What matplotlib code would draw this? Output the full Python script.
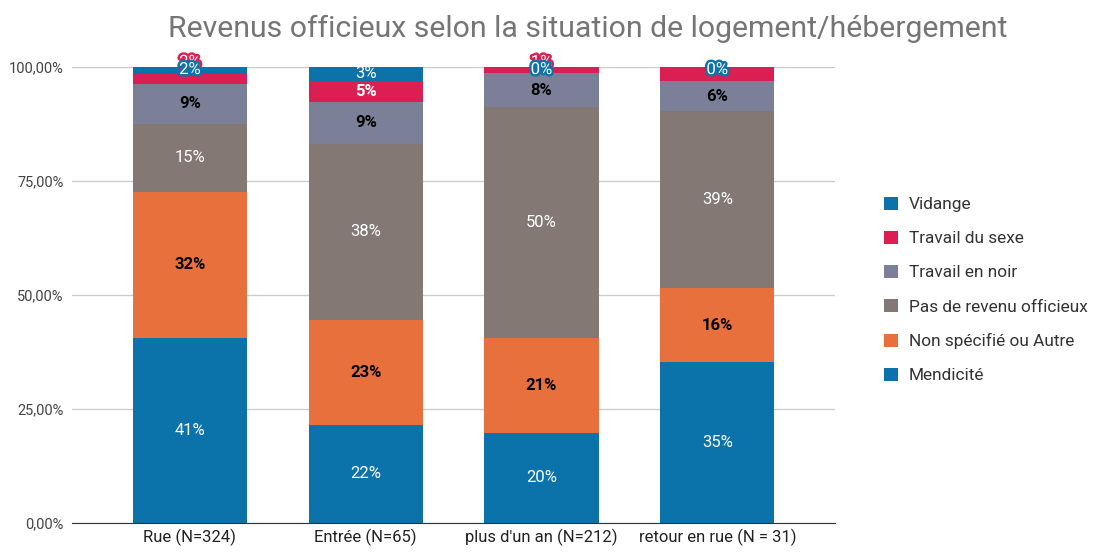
import matplotlib.pyplot as plt
import matplotlib.patheffects as pe
from matplotlib.patches import Patch
import numpy as np

plt.rcParams['font.family'] = ['Roboto', 'DejaVu Sans']

# data (percent of each group)
categories = ["Rue (N=324)", "Entrée (N=65)", "plus d'un an (N=212)", "retour en rue (N = 31)"]
series = ["Mendicité", "Non spécifié ou Autre", "Pas de revenu officieux",
          "Travail en noir", "Travail du sexe", "Vidange"]
mendicite = [40.6, 21.5, 19.8, 35.3]
non_specifie = [32.0, 23.1, 20.8, 16.2]
pas_de_revenu = [14.9, 38.5, 50.5, 38.8]
travail_noir = [8.8, 9.2, 7.5, 6.5]
travail_sexe = [2.2, 4.6, 1.4, 3.2]
vidange = [1.5, 3.1, 0.0, 0.0]
values = [mendicite, non_specifie, pas_de_revenu, travail_noir, travail_sexe, vidange]

colors = ["#0b72aa", "#e8703d", "#837873", "#7b8098", "#dc1f52", "#0b72aa"]
label_colors = ["white", "black", "white", "black", "white", "white"]
label_bold = [False, True, False, True, True, False]

fig = plt.figure(figsize=(10.93, 5.52), dpi=100)
ax = fig.add_axes([0.066, 0.0525, 0.698, 0.8265])

x = np.arange(len(categories))
width = 0.65
bottom = np.zeros(len(categories))
for i, vals in enumerate(values):
    v = np.array(vals) / 100
    ax.bar(x, v, width, bottom=bottom, color=colors[i], zorder=2)
    bottom += v

# data labels
for j in range(len(categories)):
    base = 0
    small = []
    centers = []
    for i, vals in enumerate(values):
        v = vals[j] / 100
        if vals[j] < 3:
            small.append(i)
        else:
            centers.append((i, base + v / 2))
        base += v
    # small ones go at the top, stacked upward, drawn under each other
    small_pos = []
    for k, i in enumerate(reversed(small)):
        y = 0.994 + 0.016 * k
        small_pos.append(y)
        ax.text(x[j], y, "%d%%" % round(values[i][j]), ha="center", va="center",
                color="white", fontsize=12, zorder=10 - k, clip_on=False,
                path_effects=[pe.withStroke(linewidth=3.5, foreground=colors[i])])
    for i, y in centers:
        if any(abs(y - s) < 0.025 for s in small_pos):
            continue
        ax.text(x[j], y, "%d%%" % round(values[i][j]), ha="center", va="center",
                color=label_colors[i], fontsize=12,
                fontweight="bold" if label_bold[i] else "normal", zorder=5)

ax.set_xlim(-0.67, 3.67)
ax.set_ylim(0, 1.0)
ax.set_yticks([0, 0.25, 0.5, 0.75, 1.0])
ax.set_yticklabels(["0,00%", "25,00%", "50,00%", "75,00%", "100,00%"])
ax.set_xticks(x)
ax.set_xticklabels(categories)
ax.tick_params(axis="y", length=0, labelsize=10.5, labelcolor="#444444", pad=6)
ax.tick_params(axis="x", length=0, labelsize=12, labelcolor="#222222", pad=4)
ax.grid(axis="y", color="#cccccc", linewidth=1, zorder=0)
for s in ["top", "right", "left"]:
    ax.spines[s].set_visible(False)
ax.spines["bottom"].set_color("#333333")
ax.spines["bottom"].set_zorder(3)

fig.text(0.538, 0.948, "Revenus officieux selon la situation de logement/hébergement",
         ha="center", va="center", fontsize=21.8, color="#757575")

handles = [Patch(facecolor=colors[i], label=series[i]) for i in reversed(range(len(series)))]
fig.legend(handles=handles, loc="upper left", bbox_to_anchor=(0.795, 0.672),
           frameon=False, fontsize=12.4, handlelength=0.8, handleheight=0.8,
           labelspacing=1.08, handletextpad=0.6, labelcolor="#333333")

fig.savefig("out.png", dpi=100)
